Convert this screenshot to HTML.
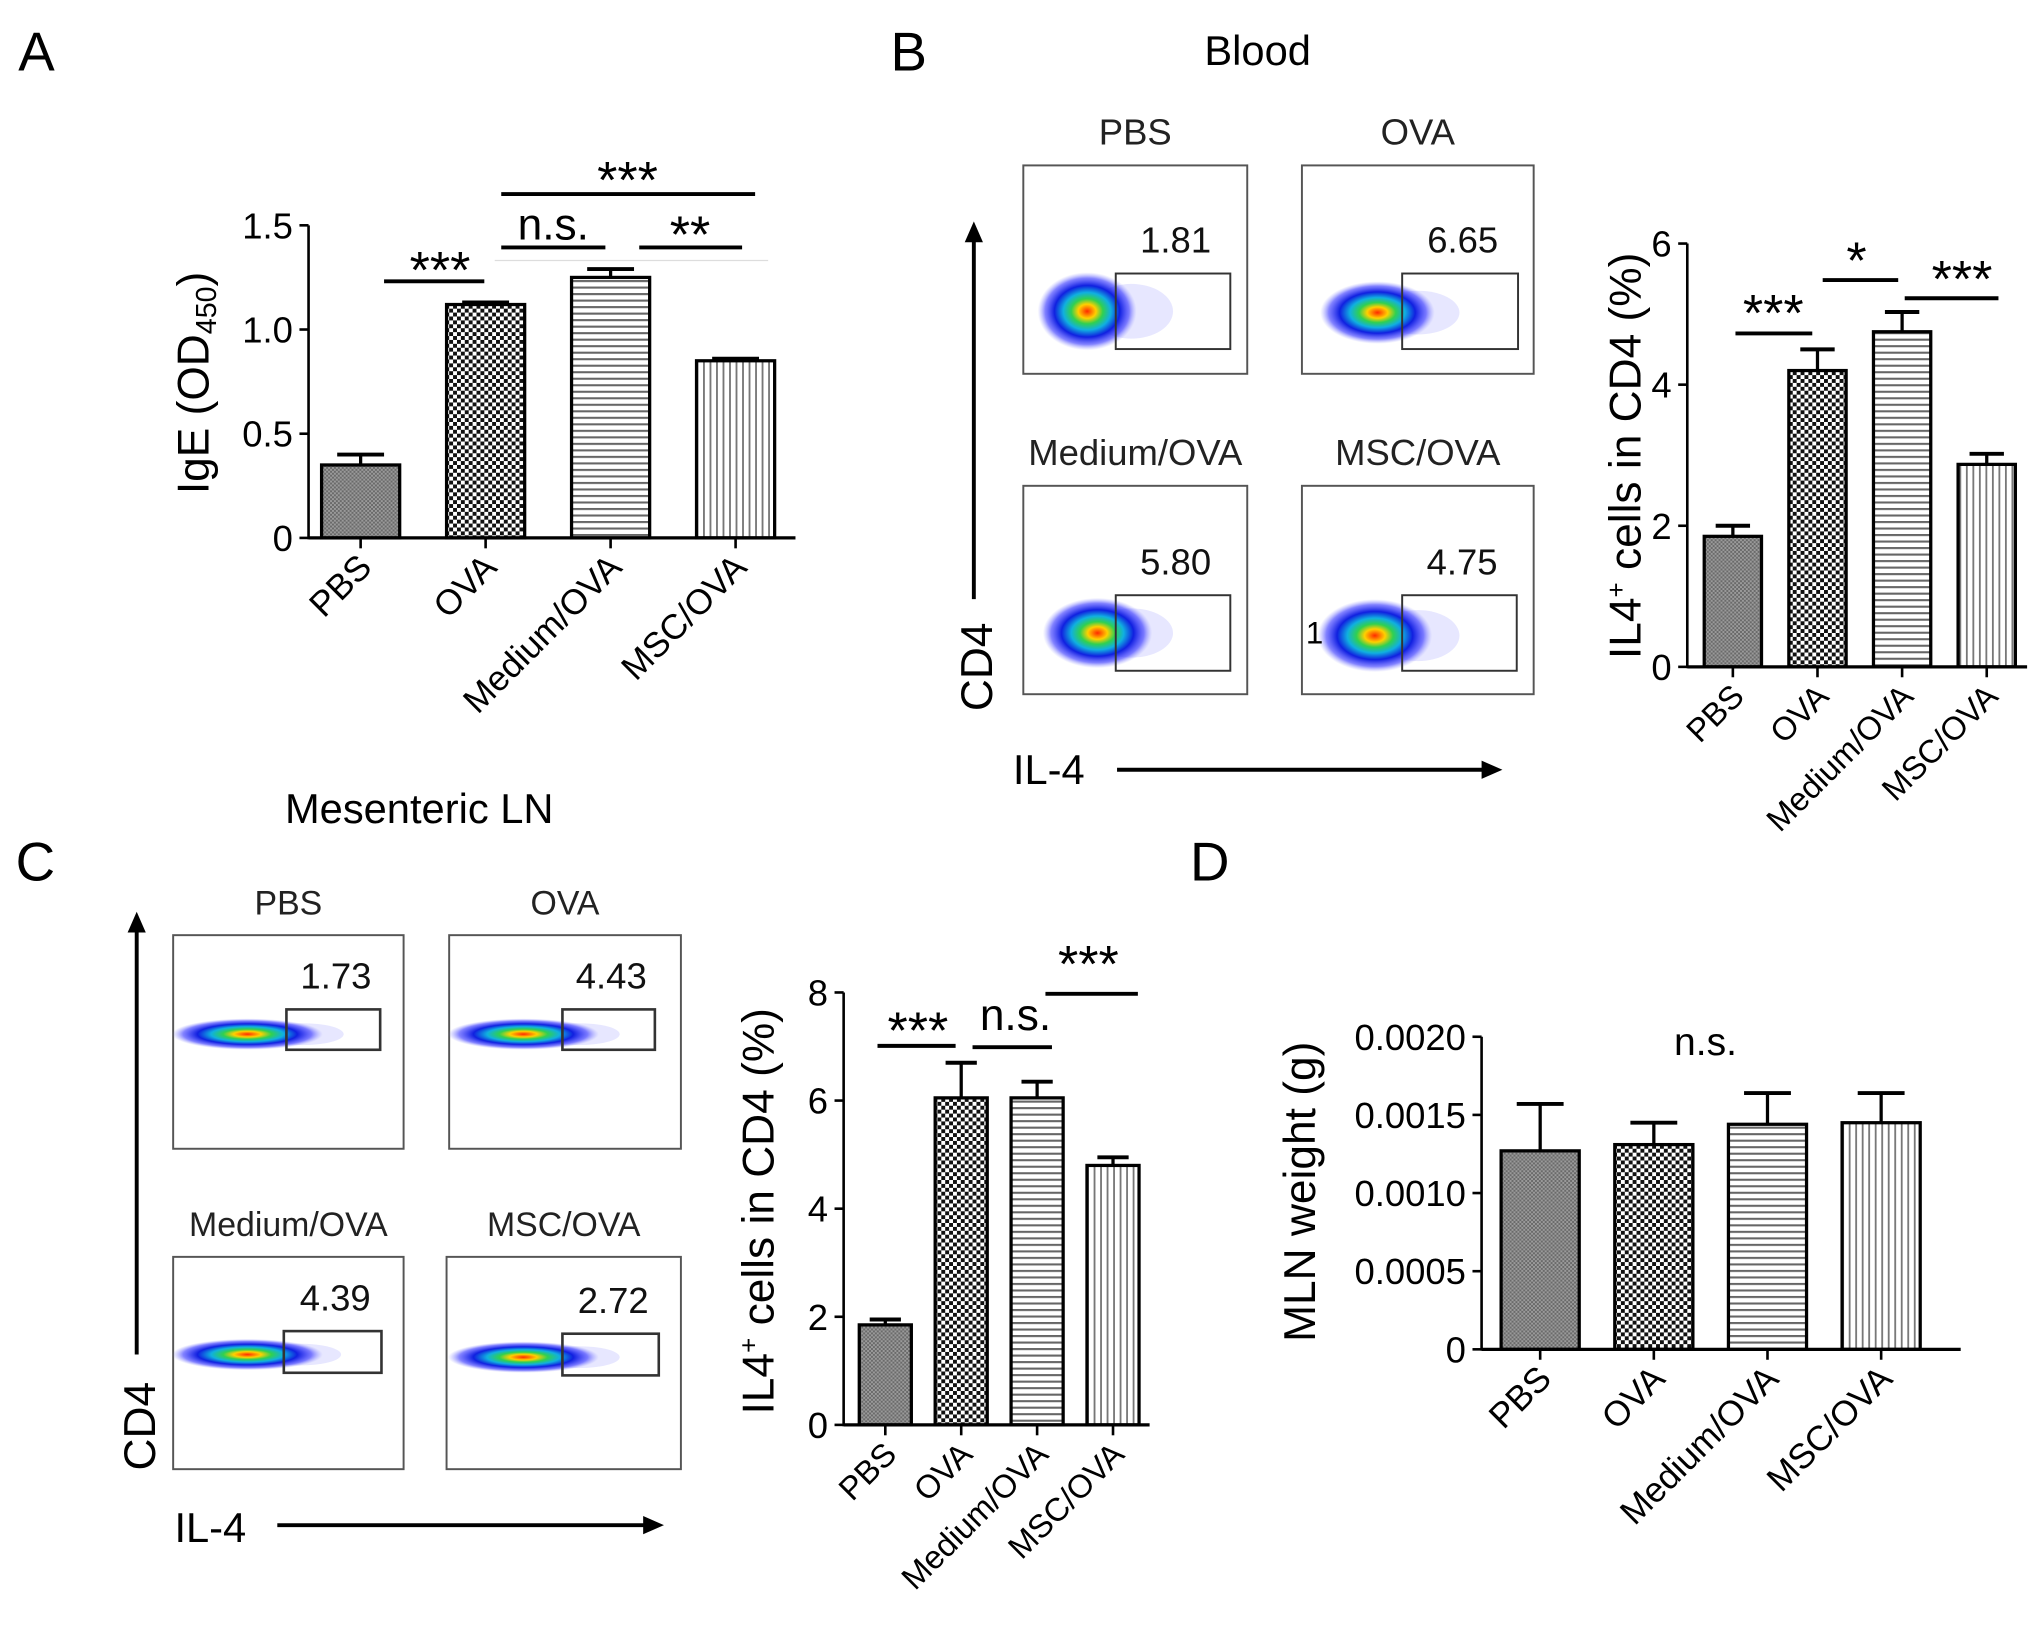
<!DOCTYPE html>
<html><head><meta charset="utf-8"><title>IgE / IL-4 figure</title>
<style>
html,body{margin:0;padding:0;background:#fff;}
svg{display:block;font-family:"Liberation Sans",Arial,sans-serif;}
</style></head>
<body>
<svg id="fig" width="2031" height="1645" viewBox="0 0 1560 1263" preserveAspectRatio="none" xmlns="http://www.w3.org/2000/svg">
<defs>
  <pattern id="pPBS" width="3" height="3" patternUnits="userSpaceOnUse">
    <rect width="3" height="3" fill="#9a9a9a"/><rect width="1.5" height="1.5" fill="#6a6a6a"/><rect x="1.5" y="1.5" width="1.5" height="1.5" fill="#6a6a6a"/>
  </pattern>
  <pattern id="pOVA" width="6" height="6" patternUnits="userSpaceOnUse">
    <rect width="6" height="6" fill="#fff"/><rect width="3" height="3" fill="#111"/><rect x="3" y="3" width="3" height="3" fill="#111"/>
  </pattern>
  <pattern id="pMED" width="6" height="5" patternUnits="userSpaceOnUse">
    <rect width="6" height="5" fill="#fff"/><rect y="0" width="6" height="1.6" fill="#666"/>
  </pattern>
  <pattern id="pMSC" width="5" height="6" patternUnits="userSpaceOnUse">
    <rect width="5" height="6" fill="#fff"/><rect x="0" width="1.4" height="6" fill="#777"/>
  </pattern>
  <radialGradient id="blob">
    <stop offset="0" stop-color="#ff2a00"/>
    <stop offset="0.18" stop-color="#ffd000"/>
    <stop offset="0.32" stop-color="#30d050"/>
    <stop offset="0.48" stop-color="#10b0e0"/>
    <stop offset="0.66" stop-color="#1020e0"/>
    <stop offset="0.85" stop-color="#3030ff" stop-opacity="0.6"/>
    <stop offset="1" stop-color="#8080ff" stop-opacity="0"/>
  </radialGradient>
  <marker id="arr" markerWidth="16" markerHeight="14" refX="4" refY="7" orient="auto" markerUnits="userSpaceOnUse">
    <path d="M0,0 L16,7 L0,14 z" fill="#000"/>
  </marker>
</defs>

<text x="14" y="54" font-size="42">A</text>
<text x="684" y="54" font-size="42">B</text>
<text x="12" y="676" font-size="42">C</text>
<text x="914" y="676" font-size="42">D</text>

<g stroke="#000" stroke-width="3">
  <line x1="295" y1="216" x2="372" y2="216"/>
  <line x1="385" y1="190" x2="465" y2="190"/>
  <line x1="491" y1="190" x2="570" y2="190"/>
  <line x1="385" y1="149" x2="580" y2="149"/>
  <line x1="380" y1="200" x2="590" y2="200" stroke="#ddd" stroke-width="1"/>
</g>
<text x="338" y="221" font-size="40" text-anchor="middle">***</text>
<text x="425" y="184" font-size="34" text-anchor="middle">n.s.</text>
<text x="530" y="194" font-size="40" text-anchor="middle">**</text>
<text x="482" y="152" font-size="40" text-anchor="middle">***</text>

<text x="966" y="50" font-size="32" text-anchor="middle">Blood</text>
<g id="flowB"></g>
<line x1="748" y1="460" x2="748" y2="182" stroke="#000" stroke-width="3" marker-end="url(#arr)"/>
<text transform="translate(762,512) rotate(-90)" font-size="34" text-anchor="middle">CD4</text>
<text x="778" y="602" font-size="32">IL-4</text>
<line x1="858" y1="591" x2="1142" y2="591" stroke="#000" stroke-width="3" marker-end="url(#arr)"/>

<g stroke="#000" stroke-width="3">
  <line x1="1333" y1="256" x2="1392" y2="256"/>
  <line x1="1400" y1="215" x2="1458" y2="215"/>
  <line x1="1463" y1="229" x2="1535" y2="229"/>
</g>
<text x="1362" y="254" font-size="40" text-anchor="middle">***</text>
<text x="1426" y="214" font-size="40" text-anchor="middle">*</text>
<text x="1507" y="228" font-size="40" text-anchor="middle">***</text>

<text x="322" y="632" font-size="32" text-anchor="middle">Mesenteric LN</text>
<g id="flowC"></g>
<line x1="105" y1="1040" x2="105" y2="712" stroke="#000" stroke-width="3" marker-end="url(#arr)"/>
<text transform="translate(119,1095) rotate(-90)" font-size="34" text-anchor="middle">CD4</text>
<text x="134" y="1184" font-size="32">IL-4</text>
<line x1="213" y1="1171" x2="498" y2="1171" stroke="#000" stroke-width="3" marker-end="url(#arr)"/>

<g stroke="#000" stroke-width="3">
  <line x1="674" y1="803" x2="734" y2="803"/>
  <line x1="747" y1="804" x2="808" y2="804"/>
  <line x1="803" y1="763" x2="874" y2="763"/>
</g>
<text x="705" y="805" font-size="40" text-anchor="middle">***</text>
<text x="780" y="791" font-size="34" text-anchor="middle">n.s.</text>
<text x="836" y="754" font-size="40" text-anchor="middle">***</text>

<text x="1310" y="810" font-size="30" text-anchor="middle">n.s.</text>

<g id="charts"></g>

<script>
const groups = ["PBS", "OVA", "Medium/OVA", "MSC/OVA"];
const fills = ["url(#pPBS)", "url(#pOVA)", "url(#pMED)", "url(#pMSC)"];

const aMeans = [0.35, 1.12, 1.25, 0.85];
const aErrs = [0.05, 0.01, 0.04, 0.01];
const aTicks = [0, 0.5, 1.0, 1.5];
const aTickLabels = ["0", "0.5", "1.0", "1.5"];

const bMeans = [1.85, 4.2, 4.75, 2.87];
const bErrs = [0.15, 0.3, 0.28, 0.15];
const bTicks = [0, 2, 4, 6];
const bTickLabels = ["0", "2", "4", "6"];

const cMeans = [1.85, 6.05, 6.05, 4.8];
const cErrs = [0.1, 0.65, 0.3, 0.15];
const cTicks = [0, 2, 4, 6, 8];
const cTickLabels = ["0", "2", "4", "6", "8"];

const dMeans = [0.00127, 0.00131, 0.00144, 0.00145];
const dErrs = [0.0003, 0.00014, 0.0002, 0.00019];
const dTicks = [0, 0.0005, 0.001, 0.0015, 0.002];
const dTickLabels = ["0", "0.0005", "0.0010", "0.0015", "0.0020"];

const bFlowValues = ["1.81", "6.65", "5.80", "4.75"];
const cFlowValues = ["1.73", "4.43", "4.39", "2.72"];

const NS = "http://www.w3.org/2000/svg";
function mk(tag, attrs, parent) {
  const e = document.createElementNS(NS, tag);
  for (const k in attrs) e.setAttribute(k, attrs[k]);
  parent.appendChild(e);
  return e;
}
function span(parent, text, attrs) {
  const s = mk("tspan", attrs || {}, parent);
  s.textContent = text;
  return s;
}
const root = document.getElementById("charts");

function drawChart(p, means, errs, ticks, tickLabels) {
  const g = mk("g", {}, root);
  
  
  const yS = v => p.y0 - (v / p.vmax) * (p.y0 - p.yTop);
  const xC = i => p.c0 + i * p.step;
  means.forEach((m, i) => {
    const cx = xC(i), top = yS(m), et = yS(m + errs[i]);
    const el = mk("line", {x1: cx, y1: top, x2: cx, y2: et, stroke: "#000", "stroke-width": 2.5}, g);
    
    
    const cap = mk("line", {x1: cx - p.bw * 0.3, y1: et, x2: cx + p.bw * 0.3, y2: et, stroke: "#000", "stroke-width": 3}, g);
    
    
    const r = mk("rect", {x: cx - p.bw / 2, y: top, width: p.bw, height: p.y0 - top, fill: fills[i], stroke: "#000", "stroke-width": 2.5}, g);
    
    
    const t = mk("line", {x1: cx, y1: p.y0, x2: cx, y2: p.y0 + 8, stroke: "#000", "stroke-width": 2}, g);
    
    
    const lx = cx + 10, ly = p.y0 + 24;
    const lab = mk("text", {x: lx, y: ly, "font-size": p.lfs, "text-anchor": "end", transform: "rotate(-45 " + lx + " " + ly + ")"}, g);
    lab.textContent = groups[i];
    
    
  });
  const ya = mk("line", {x1: p.ax, y1: p.y0 + 1, x2: p.ax, y2: p.yTop, stroke: "#000", "stroke-width": 2}, g);
  
  
  const xa = mk("line", {x1: p.ax, y1: p.y0, x2: p.xEnd, y2: p.y0, stroke: "#000", "stroke-width": 2.5}, g);
  
  
  ticks.forEach((v, i) => {
    const y = yS(v);
    const tk = mk("line", {x1: p.ax - 7, y1: y, x2: p.ax, y2: y, stroke: "#000", "stroke-width": 2}, g);
    
    
    const tl = mk("text", {x: p.ax - 12, y: y + 10, "font-size": p.tfs, "text-anchor": "end"}, g);
    tl.textContent = tickLabels[i];
    
    
  });
  const yt = mk("text", {transform: "translate(" + p.tx + "," + p.ty + ") rotate(-90)", "font-size": p.tfsT, "text-anchor": "middle"}, g);
  
  
  return yt;
}

const tA = drawChart({name: "chart-a-ige", ax: 237, xEnd: 611, y0: 413, yTop: 173, vmax: 1.5, c0: 277, step: 96, bw: 60, lfs: 27, tfs: 28, tfsT: 34, tx: 160, ty: 294}, aMeans, aErrs, aTicks, aTickLabels);
span(tA, "IgE  (OD");
span(tA, "450", {"font-size": 22, dy: 6});
span(tA, ")", {dy: -6});

const tB = drawChart({name: "chart-b-blood-il4", ax: 1296, xEnd: 1557, y0: 512, yTop: 187, vmax: 6, c0: 1331, step: 65, bw: 44, lfs: 25, tfs: 28, tfsT: 34, tx: 1260, ty: 350}, bMeans, bErrs, bTicks, bTickLabels);
span(tB, "IL4");
span(tB, "+", {"font-size": 20, dy: -12});
span(tB, " cells in CD4 (%)", {dy: 12});

const tC = drawChart({name: "chart-c-mln-il4", ax: 648, xEnd: 883, y0: 1094, yTop: 762, vmax: 8, c0: 680, step: 58.3, bw: 40, lfs: 25, tfs: 28, tfsT: 34, tx: 594, ty: 930}, cMeans, cErrs, cTicks, cTickLabels);
span(tC, "IL4");
span(tC, "+", {"font-size": 20, dy: -12});
span(tC, " cells in CD4 (%)", {dy: 12});

const tD = drawChart({name: "chart-d-mln-weight", ax: 1138, xEnd: 1506, y0: 1036, yTop: 796, vmax: 0.002, c0: 1183, step: 87.3, bw: 60, lfs: 27, tfs: 28, tfsT: 34, tx: 1010, ty: 915}, dMeans, dErrs, dTicks, dTickLabels);
tD.textContent = 'MLN weight (g)';

function flowPanel(gid, boxes, values, lfs) {
  const g = document.getElementById(gid);
  boxes.forEach((b, i) => {
    const pg = mk("g", {}, g);
    
    
    const t = mk("text", {x: b.x + b.w / 2, y: b.y - 16, "font-size": lfs, "text-anchor": "middle", fill: "#222"}, pg);
    t.textContent = groups[i];
    
    
    const fr = mk("rect", {x: b.x, y: b.y, width: b.w, height: b.h, fill: "none", stroke: "#555", "stroke-width": 1.5}, pg);
    
    
    const haze = mk("ellipse", {cx: b.gx + 12, cy: b.by, rx: 32, ry: b.ry * 0.7, fill: "#6060ff", opacity: 0.15}, pg);
    
    
    const bl = mk("ellipse", {cx: b.bx, cy: b.by, rx: b.rx, ry: b.ry, fill: "url(#blob)"}, pg);
    
    
    const gate = mk("rect", {x: b.gx, y: b.gy, width: b.gw, height: b.gh, fill: "none", stroke: "#333", "stroke-width": b.gs}, pg);
    
    
    const v = mk("text", {x: b.gx + b.gw / 2 + 2, y: b.gy - 16, "font-size": 28, "text-anchor": "middle", fill: "#111"}, pg);
    v.textContent = values[i];
    
    
  });
}
flowPanel("flowB", [
  {x: 786, y: 127, w: 172, h: 160, bx: 835, by: 239, rx: 38, ry: 30, gx: 857, gy: 210, gw: 88, gh: 58, gs: 1.5},
  {x: 1000, y: 127, w: 178, h: 160, bx: 1058, by: 240, rx: 44, ry: 24, gx: 1077, gy: 210, gw: 89, gh: 58, gs: 1.5},
  {x: 786, y: 373, w: 172, h: 160, bx: 843, by: 486, rx: 42, ry: 27, gx: 857, gy: 457, gw: 88, gh: 58, gs: 1.5},
  {x: 1000, y: 373, w: 178, h: 160, bx: 1056, by: 488, rx: 44, ry: 28, gx: 1077, gy: 457, gw: 88, gh: 58, gs: 1.5}
], bFlowValues, 28);
flowPanel("flowC", [
  {x: 133, y: 718, w: 177, h: 164, bx: 190, by: 794, rx: 58, ry: 12, gx: 220, gy: 775, gw: 72, gh: 31, gs: 2},
  {x: 345, y: 718, w: 178, h: 164, bx: 402, by: 794, rx: 58, ry: 12, gx: 432, gy: 775, gw: 71, gh: 31, gs: 2},
  {x: 133, y: 965, w: 177, h: 163, bx: 190, by: 1040, rx: 58, ry: 12, gx: 218, gy: 1022, gw: 75, gh: 32, gs: 2},
  {x: 343, y: 965, w: 180, h: 163, bx: 402, by: 1042, rx: 58, ry: 12, gx: 432, gy: 1024, gw: 74, gh: 32, gs: 2}
], cFlowValues, 26);
</script>
<text x="1003" y="494" font-size="24">1</text>
</svg>
</body></html>
